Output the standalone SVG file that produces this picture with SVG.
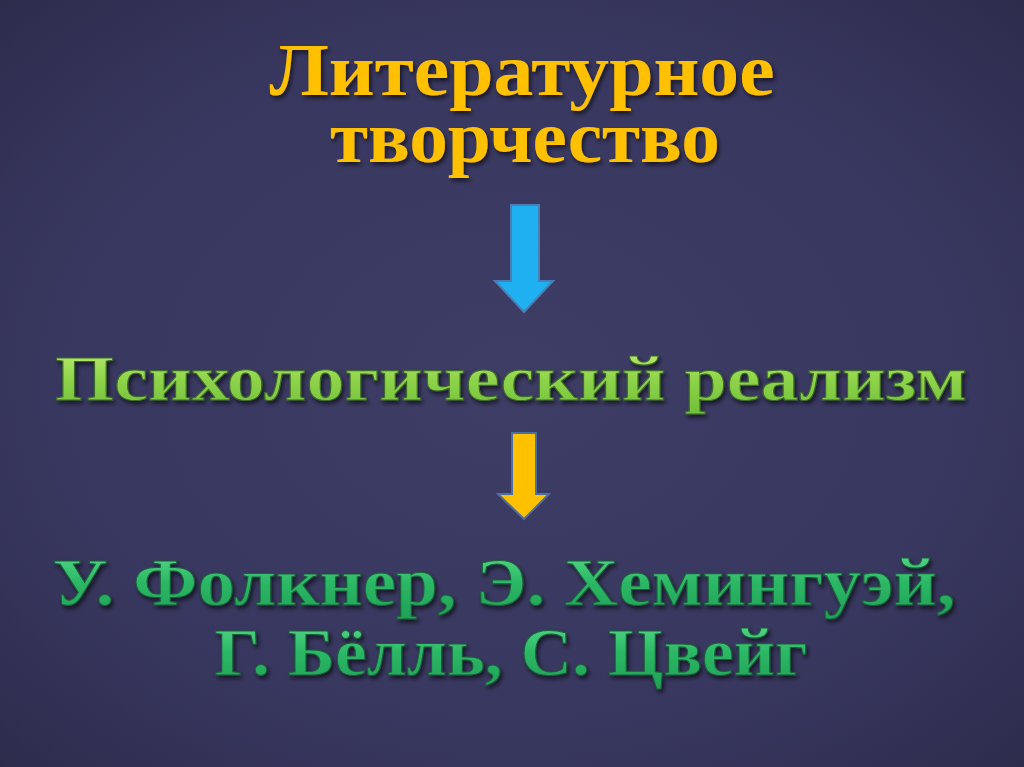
<svg xmlns="http://www.w3.org/2000/svg" width="1024" height="767" viewBox="0 0 1024 767">
<defs>
<radialGradient id="bg" cx="50%" cy="50%" r="75%">
<stop offset="0" stop-color="#3e3d65"/>
<stop offset="0.6" stop-color="#38375f"/>
<stop offset="1" stop-color="#2c2a4a"/>
</radialGradient>
<linearGradient id="lg1" x1="0" y1="0" x2="0" y2="1">
<stop offset="0" stop-color="#c6f07a"/>
<stop offset="0.5" stop-color="#8fd44a"/>
<stop offset="1" stop-color="#6fbf3a"/>
</linearGradient>
<linearGradient id="lg2" x1="0" y1="0" x2="0" y2="1">
<stop offset="0" stop-color="#5fe08e"/>
<stop offset="0.5" stop-color="#2cb866"/>
<stop offset="1" stop-color="#1f9f55"/>
</linearGradient>
<filter id="sh" x="-10%" y="-20%" width="120%" height="150%">
<feDropShadow dx="2" dy="3" stdDeviation="2" flood-color="#000" flood-opacity="0.6"/>
</filter>
</defs>
<style>
.t{font-family:"Liberation Serif","DejaVu Serif",serif;font-weight:bold;text-anchor:middle}
.title{fill:#ffc000;font-size:74px}
.g1{fill:url(#lg1);stroke:#3d6a2a;stroke-width:1;font-size:64px}
.g2{fill:url(#lg2);stroke:#1b5e3a;stroke-width:1;font-size:68px}
.arrow{stroke-width:2;stroke-linejoin:miter}
</style>
<rect width="1024" height="767" fill="url(#bg)"/>
<g id="node-title" filter="url(#sh)">
<text class="t title" x="522" y="95" textLength="505" lengthAdjust="spacingAndGlyphs">Литературное</text>
<text class="t title" x="525" y="162" textLength="390" lengthAdjust="spacingAndGlyphs">творчество</text>
</g>
<g id="node-realism" filter="url(#sh)">
<text class="t g1" x="511" y="400" textLength="912" lengthAdjust="spacingAndGlyphs">Психологический реализм</text>
</g>
<g id="node-authors" filter="url(#sh)">
<text class="t g2" x="504" y="605" textLength="903" lengthAdjust="spacingAndGlyphs">У. Фолкнер, Э. Хемингуэй,</text>
<text class="t g2" x="511" y="675" textLength="593" lengthAdjust="spacingAndGlyphs">Г. Бёлль, С. Цвейг</text>
</g>
<g id="connectors">
<path class="arrow" d="M511 205 H539 V281 H553 L524 312 L495 281 H511 Z" fill="#1eb0f0" stroke="#4a7fb5"/>
<path class="arrow" d="M512 433 H536 V494 H549 L524 519 L498 494 H512 Z" fill="#ffc000" stroke="#4a6fa5"/>
</g>
</svg>
